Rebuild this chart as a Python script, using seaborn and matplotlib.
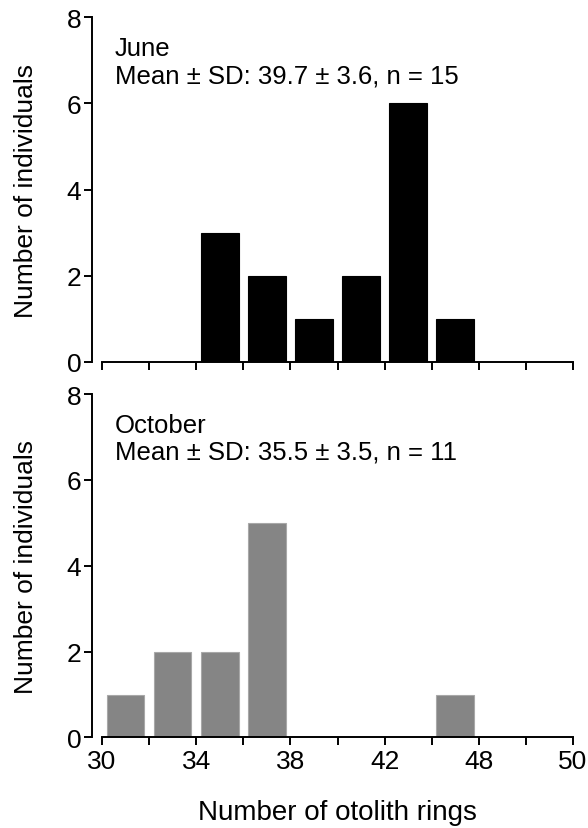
import matplotlib
matplotlib.use("Agg")
import matplotlib.pyplot as plt
import pandas as pd
import seaborn as sns

# histogram of otolith ring counts
june_rings = [35, 37, 39, 41, 43, 45]
june_counts = [3, 2, 1, 2, 6, 1]
october_rings = [31, 33, 35, 37, 45]
october_counts = [1, 2, 2, 5, 1]

june_text = "June\nMean ± SD: 39.7 ± 3.6, n = 15"
october_text = "October\nMean ± SD: 35.5 ± 3.5, n = 11"

x_ticks = list(range(30, 51, 2))
x_tick_labels = ["30", "", "34", "", "38", "", "42", "", "48", "", "50"]
y_ticks = [0, 2, 4, 6, 8]

sns.set_theme(style="ticks")
plt.rcParams["font.family"] = ["Liberation Sans", "DejaVu Sans"]
plt.rcParams["font.size"] = 19
plt.rcParams["text.color"] = "black"
plt.rcParams["axes.labelcolor"] = "black"

fig = plt.figure(figsize=(5.88, 8.29), dpi=100)
ax_top = fig.add_axes([102 / 588, 0.5625, 471 / 588, 0.4154])
ax_bot = fig.add_axes([102 / 588, 0.1092, 471 / 588, 0.4143])

panels = [
    (ax_top, june_rings, june_counts, "black", "black", june_text),
    (ax_bot, october_rings, october_counts, "#858585", "#a8a8a8", october_text),
]

for ax, rings, counts, fill, edge, label in panels:
    df = pd.DataFrame({"rings": rings, "count": counts})
    sns.barplot(data=df, x="rings", y="count", native_scale=True, color=fill,
                saturation=1, width=0.8, edgecolor=edge, linewidth=0.8, ax=ax)
    ax.set_xlim(30, 50)
    ax.set_ylim(0, 8)
    ax.set_xticks(x_ticks)
    ax.set_yticks(y_ticks)
    ax.spines["top"].set_visible(False)
    ax.spines["right"].set_visible(False)
    ax.spines["left"].set_position(("outward", 7))
    for s in ("left", "bottom"):
        ax.spines[s].set_linewidth(1.4)
        ax.spines[s].set_color("black")
    ax.tick_params(axis="both", length=6, width=1.4, colors="black",
                   labelcolor="black", labelsize=19, pad=2)
    ax.set_ylabel("Number of individuals", fontsize=19, color="black")
    ax.set_xlabel("")
    ax.text(0.027, 0.945, label, transform=ax.transAxes, ha="left", va="top",
            fontsize=18.5, linespacing=1.15, color="black")
    ax.yaxis.set_label_coords(-0.135, 0.5)

ax_top.set_xticklabels([])
ax_bot.set_xticklabels(x_tick_labels)
ax_bot.set_xlabel("Number of otolith rings", fontsize=20, labelpad=19,
                  color="black")

fig.savefig("out.png", dpi=100)
